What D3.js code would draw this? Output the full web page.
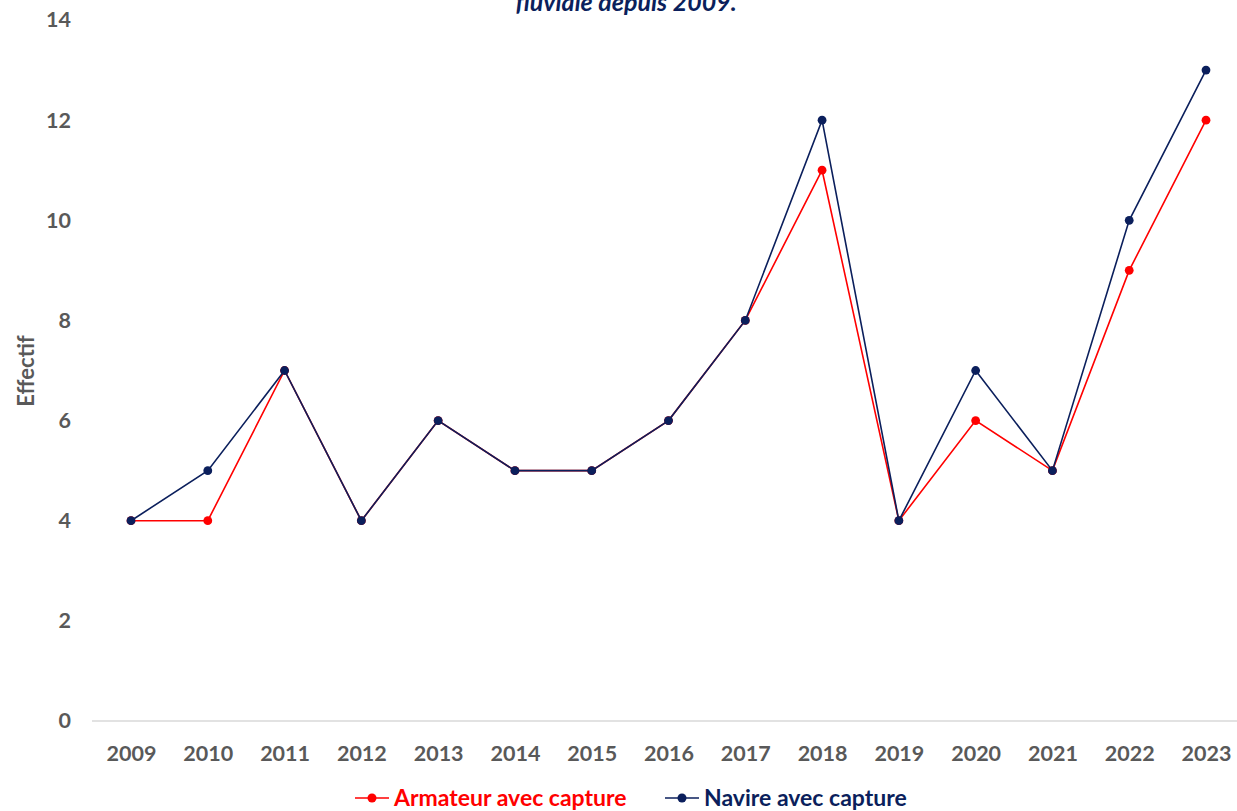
<!DOCTYPE html>
<html>
<head>
<meta charset="utf-8">
<script src="https://cdn.jsdelivr.net/npm/d3@7"></script>
<style>
  html, body { margin: 0; padding: 0; background: #fff; }
  svg { display: block; font-family: Lato, "Open Sans", "DejaVu Sans", sans-serif; }
</style>
</head>
<body>
<svg id="chart" width="1237" height="811"></svg>
<script>
// Years and headcounts per series
const years = ["2009","2010","2011","2012","2013","2014","2015","2016","2017","2018","2019","2020","2021","2022","2023"];
const armateurValues = [4, 4, 7, 4, 6, 5, 5, 6, 8, 11, 4, 6, 5, 9, 12];
const navireValues   = [4, 5, 7, 4, 6, 5, 5, 6, 8, 12, 4, 7, 5, 10, 13];
const yTicks = [0, 2, 4, 6, 8, 10, 12, 14];
const seriesNames = ["Armateur avec capture", "Navire avec capture"];

const svg = d3.select("#chart");

const x = d3.scalePoint().domain(years).range([131, 1206]);
const y = d3.scaleLinear().domain([0, 14]).range([721, 20]);

const gray = "#595959";
const series = [
  { name: seriesNames[0], values: armateurValues, color: "#FF0000" },
  { name: seriesNames[1], values: navireValues, color: "#0B1F5C" }
];

// Title (its upper lines run above the top edge)
svg.append("text")
  .attr("x", 626).attr("y", 11)
  .attr("text-anchor", "middle")
  .attr("font-size", 25).attr("font-weight", 700).attr("font-style", "italic")
  .attr("fill", "#0B1F5C")
  .text("fluviale depuis 2009.");

// Horizontal baseline
svg.append("line")
  .attr("x1", 92).attr("x2", 1237)
  .attr("y1", y(0)).attr("y2", y(0))
  .attr("stroke", "#d9d9d9").attr("stroke-width", 1.3);

// Y axis labels
const yAxis = d3.axisLeft(y).tickValues(yTicks).tickSize(0).tickPadding(0);
const gy = svg.append("g").attr("transform", "translate(71,0)").call(yAxis);
gy.select(".domain").remove();
gy.selectAll("text")
  .attr("font-family", "Lato, 'Open Sans', sans-serif")
  .attr("font-size", 21.5).attr("font-weight", 700).attr("fill", gray);

// X axis labels
const xAxis = d3.axisBottom(x).tickSize(0).tickPadding(0);
const gx = svg.append("g").attr("transform", "translate(0,746)").call(xAxis);
gx.select(".domain").remove();
gx.selectAll("text")
  .attr("font-family", "Lato, 'Open Sans', sans-serif")
  .attr("font-size", 21.5).attr("font-weight", 700).attr("fill", gray);

// Y axis title
svg.append("text")
  .attr("transform", "translate(34,371) rotate(-90)")
  .attr("text-anchor", "middle")
  .attr("font-size", 22).attr("font-weight", 700).attr("fill", gray)
  .text("Effectif");

// Lines and markers
const line = d3.line().x((d, i) => x(years[i])).y(d => y(d));
series.forEach(s => {
  svg.append("path")
    .datum(s.values)
    .attr("d", line)
    .attr("fill", "none")
    .attr("stroke", s.color).attr("stroke-width", 1.6);
  svg.append("g").selectAll("circle")
    .data(s.values)
    .join("circle")
    .attr("cx", (d, i) => x(years[i]))
    .attr("cy", d => y(d))
    .attr("r", 4.4)
    .attr("fill", s.color);
});

// Legend
const legendItems = [
  { s: series[0], x0: 355 },
  { s: series[1], x0: 665 }
];
legendItems.forEach(({ s, x0 }) => {
  const g = svg.append("g").attr("transform", `translate(${x0},798)`);
  g.append("line").attr("x1", 0).attr("x2", 34).attr("y1", 0).attr("y2", 0)
    .attr("stroke", s.color).attr("stroke-width", 1.6);
  g.append("circle").attr("cx", 17).attr("cy", 0).attr("r", 4.5).attr("fill", s.color);
  g.append("text").attr("x", 39).attr("y", 8)
    .attr("font-size", 23).attr("font-weight", 700).attr("fill", s.color)
    .text(s.name);
});
</script>
</body>
</html>
